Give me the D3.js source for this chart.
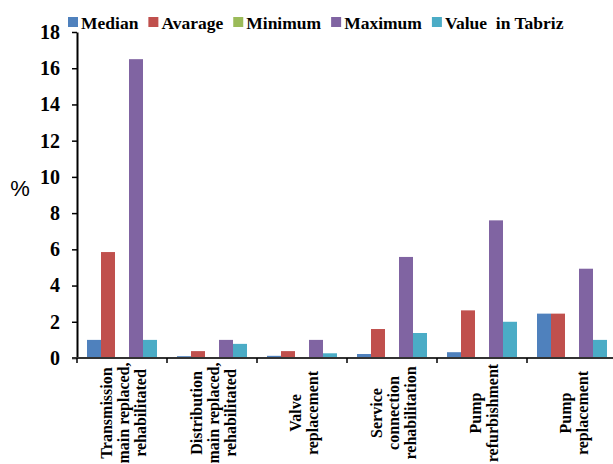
<!DOCTYPE html>
<html>
<head>
<meta charset="utf-8">
<script src="https://cdn.jsdelivr.net/npm/d3@7"></script>
<style>
  html, body { margin: 0; padding: 0; background: #fff; overflow: hidden; }
  svg { display: block; }
  .serif { font-family: "Liberation Serif", "Times New Roman", Times, serif; font-weight: bold; }
  .sans { font-family: "Liberation Sans", Arial, sans-serif; }
</style>
</head>
<body>
<svg id="chart" width="613" height="464"></svg>
<script>
// ---- data ----
const categories = [
  "Transmission\nmain replaced,\nrehabilitated",
  "Distribution\nmain replaced,\nrehabilitated",
  "Valve\nreplacement",
  "Service\nconnection\nrehabilitation",
  "Pump\nrefurbishment",
  "Pump\nreplacement"
];
const seriesNames = ["Median", "Avarage", "Minimum", "Maximum", "Value  in Tabriz"];
const median  = [1.0, 0.1, 0.12, 0.22, 0.32, 2.45];
const average = [5.85, 0.38, 0.38, 1.6, 2.63, 2.45];
const minimum = [0, 0, 0, 0, 0, 0];
const maximum = [16.5, 1.0, 1.0, 5.58, 7.6, 4.93];
const tabriz  = [1.0, 0.78, 0.26, 1.38, 2.0, 1.0];
const yTicks = [0, 2, 4, 6, 8, 10, 12, 14, 16, 18];
const colors = ["#4F81BD", "#C0504D", "#9BBB59", "#8064A2", "#4BACC6"];

const seriesValues = [median, average, minimum, maximum, tabriz];

// ---- layout ----
const svg = d3.select("#chart");
const mLeft = 77, mTop = 32, mBottom = 358, mRight = 617;

const x = d3.scaleBand().domain(categories).range([mLeft, mRight]).paddingInner(0).paddingOuter(0);
const xs = d3.scaleBand().domain(seriesNames).range([10, x.bandwidth() - 10]).padding(0);
const y = d3.scaleLinear().domain([0, 18]).range([mBottom, mTop]);

// bars
const groups = svg.append("g").selectAll("g")
  .data(categories)
  .join("g")
  .attr("transform", d => `translate(${x(d)},0)`);

groups.selectAll("rect")
  .data((c, i) => seriesNames.map((s, k) => ({ s, k, v: seriesValues[k][i] })))
  .join("rect")
  .attr("x", d => xs(d.s))
  .attr("width", xs.bandwidth())
  .attr("y", d => y(d.v))
  .attr("height", d => y(0) - y(d.v))
  .attr("fill", d => colors[d.k]);

// y axis
const yAxis = d3.axisLeft(y).tickValues(yTicks).tickSize(5).tickPadding(12).tickSizeOuter(0);
const gy = svg.append("g").attr("transform", `translate(${mLeft},0)`).call(yAxis);
gy.attr("font-family", null).attr("font-size", null);
gy.select(".domain").attr("stroke", "#000").attr("stroke-width", 2);
gy.selectAll(".tick line").attr("stroke", "#000").attr("stroke-width", 1.5);
gy.selectAll(".tick text")
  .attr("class", "serif")
  .style("font-size", "20px")
  .attr("fill", "#000");

// x axis line
svg.append("line")
  .attr("x1", mLeft - 5).attr("x2", mRight)
  .attr("y1", y(0)).attr("y2", y(0))
  .attr("stroke", "#333").attr("stroke-width", 2);

// x axis ticks at category boundaries
const boundaries = categories.map(c => x(c)).concat([x(categories[categories.length - 1]) + x.bandwidth()]);
svg.append("g").selectAll("line")
  .data(boundaries)
  .join("line")
  .attr("x1", d => d).attr("x2", d => d)
  .attr("y1", y(0)).attr("y2", y(0) + 5)
  .attr("stroke", "#000").attr("stroke-width", 1.5);

// x labels (rotated)
const lineGap = 17;
const lbl = svg.append("g").selectAll("text")
  .data(categories)
  .join("text")
  .attr("class", "serif")
  .attr("transform", d => `translate(${x(d) + x.bandwidth() / 2 + 7},413) rotate(-90)`)
  .attr("text-anchor", "middle")
  .style("font-size", "16px")
  .attr("fill", "#000");
lbl.each(function(d) {
  const lines = d.split("\n");
  const n = lines.length;
  d3.select(this).selectAll("tspan")
    .data(lines)
    .join("tspan")
    .attr("x", 0)
    .attr("y", (l, i) => (i - (n - 1) / 2) * lineGap)
    .text(l => l);
});

// y axis title
svg.append("text")
  .attr("class", "sans")
  .attr("x", 20).attr("y", 196)
  .attr("text-anchor", "middle")
  .style("font-size", "22px")
  .attr("fill", "#000")
  .text("%");

// legend
const legend = svg.append("g");
let lx = 68;
seriesNames.forEach((s, k) => {
  legend.append("rect")
    .attr("x", lx).attr("y", 17)
    .attr("width", 10).attr("height", 10)
    .attr("fill", colors[k]);
  const t = legend.append("text")
    .attr("class", "serif")
    .attr("x", lx + 13).attr("y", 29)
    .style("font-size", "17.5px")
    .attr("fill", "#000")
    .style("white-space", "pre")
    .text(s);
  lx += 13 + t.node().getComputedTextLength() + 10;
});
</script>
</body>
</html>
